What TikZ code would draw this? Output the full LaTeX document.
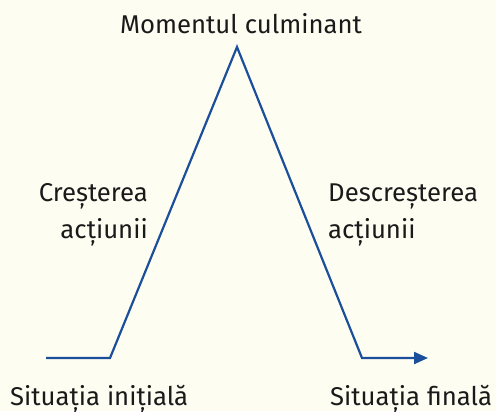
\documentclass[tikz,border=0pt]{standalone}
\usepackage{fontspec}
\setmainfont{Fira Sans}
\usetikzlibrary{arrows.meta}
\definecolor{bgc}{HTML}{FEFDF2}
\definecolor{linec}{HTML}{1B4F9C}
\definecolor{txtc}{HTML}{1A1A1A}
\begin{document}
\begin{tikzpicture}[x=1bp,y=-1bp,
  lbl/.style={text=txtc,font=\fontsize{25.8}{37}\selectfont,inner sep=0pt},
  plot/.style={draw=linec,line width=2.2bp,line join=miter}]
\fill[bgc] (0,0) rectangle (496,411);
\useasboundingbox (0,0) rectangle (496,411);
\coordinate (s) at (46,358);
\coordinate (a) at (110,358);
\coordinate (p) at (237,47);
\coordinate (b) at (362,358);
\coordinate (e) at (428,358);
\draw[plot,-{Triangle[length=14bp,width=12bp]}] (s) -- (a) -- (p) -- (b) -- (e);
\node[lbl,anchor=base] (top) at (241,33) {Momentul culminant};
\node[lbl,anchor=base east,align=right] (cr) at (148,238) {Creșterea\\acțiunii};
\node[lbl,anchor=base west,align=left] (de) at (328,238) {Descreșterea\\acțiunii};
\node[lbl,anchor=base west] (si) at (10,405) {Situația inițială};
\node[lbl,anchor=base west] (sf) at (330,405) {Situația finală};
\end{tikzpicture}
\end{document}
